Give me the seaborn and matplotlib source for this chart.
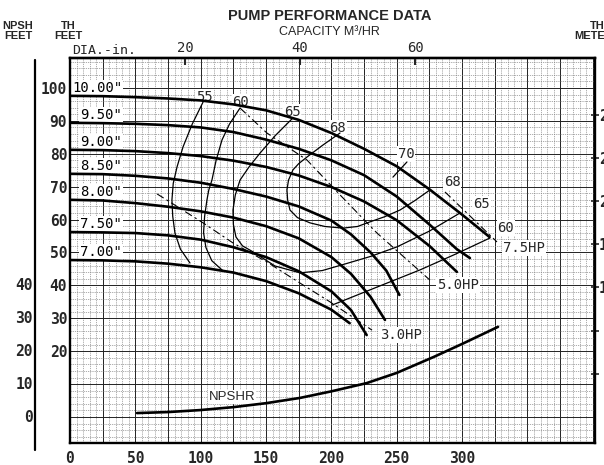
import numpy as np
import pandas as pd
import matplotlib
matplotlib.use("Agg")
import matplotlib.pyplot as plt
from matplotlib.lines import Line2D
import seaborn as sns

sns.set_theme(style="white")
plt.rcParams['font.family'] = ['DejaVu Sans']
MONO = 'DejaVu Sans Mono'
SANS = 'Liberation Sans'

# ---------------- data (capacity GPM, total head ft) ----------------
dia_labels = ['10.00"', '9.50"', '9.00"', '8.50"', '8.00"', '7.50"', '7.00"']
q_1000 = [0, 25, 50, 75, 100, 125, 150, 175, 200, 225, 250, 275, 300, 321]
h_1000 = [97.6, 97.5, 97.2, 96.8, 96.2, 95.0, 93.2, 90.3, 86.3, 81.5, 76.2, 69.2, 61.5, 54.7]
q_950 = [0, 25, 50, 75, 100, 125, 150, 175, 200, 225, 250, 275, 296, 306]
h_950 = [89.4, 89.3, 89.1, 88.7, 88.0, 86.6, 84.3, 81.5, 78.0, 73.5, 67.0, 58.5, 51.0, 48.3]
q_900 = [0, 25, 50, 75, 100, 125, 150, 175, 200, 225, 250, 275, 296]
h_900 = [81.2, 81.1, 80.8, 80.2, 79.3, 77.9, 76.0, 73.4, 69.9, 65.5, 59.8, 52.0, 44.1]
q_850 = [0, 25, 50, 75, 100, 125, 150, 175, 200, 215, 230, 242, 252]
h_850 = [73.9, 73.8, 73.3, 72.5, 71.2, 69.3, 67.0, 64.0, 59.7, 55.5, 50.0, 44.5, 37.1]
q_800 = [0, 25, 50, 75, 100, 125, 150, 175, 200, 215, 230, 241]
h_800 = [66.0, 65.8, 65.0, 63.9, 62.5, 60.6, 58.0, 54.3, 48.6, 43.5, 36.5, 29.5]
q_750 = [0, 25, 50, 75, 100, 125, 150, 175, 200, 215, 227]
h_750 = [56.2, 56.1, 55.9, 55.2, 53.9, 51.6, 48.6, 44.3, 38.2, 32.5, 24.9]
q_700 = [0, 25, 50, 75, 100, 125, 150, 175, 200, 214]
h_700 = [47.7, 47.6, 47.3, 46.6, 45.5, 43.9, 41.3, 37.6, 32.6, 28.5]

# efficiency contours (%)
q_e55 = [101.8, 93.5, 86.5, 81.9, 79.0, 78.0, 78.6, 80.3, 84.5, 91.8]
h_e55 = [95.7, 89.0, 82.1, 76.0, 71.0, 66.0, 61.0, 55.9, 51.0, 46.8]
q_e60a = [130.1, 122.0, 116.3, 111.8, 108.6, 106.2, 104.8, 103.0, 102.2, 104.0, 108.5, 117.1]
h_e60a = [93.9, 89.0, 84.2, 78.0, 72.0, 69.0, 66.0, 61.0, 56.0, 51.5, 47.5, 44.4]
q_e60b = [321.3, 295.0, 267.8, 235.0, 200.5]
h_e60b = [54.4, 49.5, 44.7, 39.5, 34.0]
q_e65 = [170.6, 157.0, 145.4, 137.0, 130.1, 126.5, 124.7, 125.0, 127.0, 132.0, 140.0,
         156.8, 176.0, 193.0, 210.4, 230.0, 250.2, 275.0, 298.4]
h_e65 = [90.9, 85.5, 80.2, 76.0, 72.0, 67.5, 62.9, 58.5, 54.7, 52.0, 50.2,
         45.9, 43.8, 44.5, 46.5, 48.8, 51.7, 56.5, 62.0]
q_e68 = [206.6, 193.0, 181.3, 175.0, 170.6, 167.2, 166.0, 166.5, 168.3, 174.0, 183.6,
         195.0, 208.9, 220.0, 229.5, 241.0, 252.5, 264.0, 275.4]
h_e68 = [86.3, 82.5, 79.0, 77.0, 75.1, 72.0, 69.0, 66.0, 62.9, 60.6, 59.0,
         57.9, 57.4, 57.9, 59.3, 60.9, 62.9, 65.8, 69.0]
q_e70 = [247.1, 257.8]
h_e70 = [72.9, 77.5]

# horsepower lines
q_hp3 = [66.6, 101.8, 124.7, 150.7, 176.0, 198.9, 231.1]
h_hp3 = [67.8, 59.0, 52.9, 47.1, 40.7, 35.0, 26.4]
q_hp5 = [130.1, 150.7, 181.3, 206.6, 234.9, 275.4]
h_hp5 = [93.9, 86.3, 78.1, 67.5, 55.9, 41.6]
q_hp75 = [286.9, 326.7]
h_hp75 = [68.4, 53.2]

# NPSH required
q_npsh = [51.3, 75, 99.5, 125, 150, 176, 200, 227, 250, 278, 300, 327.5]
h_npsh = [1.2, 1.5, 2.1, 3.0, 4.2, 5.8, 7.8, 10.3, 13.4, 18.2, 22.2, 27.4]

x_ticks = [0, 50, 100, 150, 200, 250, 300]
th_ticks = [20, 30, 40, 50, 60, 70, 80, 90, 100]
npsh_ticks = [0, 10, 20, 30, 40]
m3h_ticks = [20, 40, 60]
m_ticks = [4, 8, 12, 16, 20, 24, 28]

# ---------------- figure ----------------
W, H = 604, 465
fig = plt.figure(figsize=(W / 100, H / 100), dpi=100)
fig.patch.set_facecolor('white')
ax = fig.add_axes([70 / W, 1 - 443 / H, 525 / W, 385 / H])
ax.set_facecolor('white')
XMAX, YMIN, YMAX = 401.7, -7.9, 109.1
ax.set_xlim(0, XMAX)
ax.set_ylim(YMIN, YMAX)

# graph-paper grid
for v in np.arange(5, XMAX, 5):
    major = abs(v / 25 - round(v / 25)) < 1e-6
    ax.axvline(v, color='#222222' if major else '#808080',
               lw=0.7 if major else 0.45, ls='-' if major else (0, (2, 1.5)), zorder=0)
for hh in np.arange(-6, YMAX, 2):
    major = abs(hh / 10 - round(hh / 10)) < 1e-6
    ax.axhline(hh, color='#222222' if major else '#808080',
               lw=0.7 if major else 0.45, ls='-' if major else (0, (2, 1.5)), zorder=0)

def draw(q, h, lw, ls='-', z=3):
    sns.lineplot(x=q, y=h, ax=ax, color='black', lw=lw, sort=False,
                 estimator=None, legend=False, zorder=z, linestyle=ls)

heads = [(q_1000, h_1000), (q_950, h_950), (q_900, h_900), (q_850, h_850),
         (q_800, h_800), (q_750, h_750), (q_700, h_700)]
for (q, h) in heads:
    draw(q, h, 1.9)
for (q, h) in [(q_e55, h_e55), (q_e60a, h_e60a), (q_e60b, h_e60b),
               (q_e65, h_e65), (q_e68, h_e68), (q_e70, h_e70)]:
    draw(q, h, 0.9)
for (q, h) in [(q_hp3, h_hp3), (q_hp5, h_hp5), (q_hp75, h_hp75)]:
    draw(q, h, 0.8, ls=(0, (7, 3, 2, 3)))
draw(q_npsh, h_npsh, 1.9)

box = dict(facecolor='white', edgecolor='none', pad=0.6)
for i, (lab, (q, h)) in enumerate(zip(dia_labels, heads)):
    ax.text(1.5 if i == 0 else 7.7, h[0] + 2.5, lab, family=MONO, fontsize=10,
            ha='left', va='center', color='black', bbox=box, zorder=2.5)

eff_text = [('55', 102.5, 97.3), ('60', 130.8, 95.7), ('65', 169.9, 92.7),
            ('68', 205.0, 87.8), ('70', 257.1, 79.9), ('68', 292.3, 71.4),
            ('65', 315.2, 64.7), ('60', 333.6, 57.4)]
for t, x, y in eff_text:
    ax.text(x, y, t, family=MONO, fontsize=10, ha='center', va='center',
            bbox=box, zorder=2.5)
for t, x, y in [('7.5HP', 331.3, 51.4), ('5.0HP', 280.8, 40.1), ('3.0HP', 237.2, 24.9)]:
    ax.text(x, y, t, family=MONO, fontsize=10, ha='left', va='center',
            bbox=box, zorder=2.5)
ax.text(123.9, 6.1, 'NPSHR', family=SANS, fontsize=9.5, ha='center', va='center',
        bbox=box, zorder=2.5)

# axes ticks and spines
for s in ax.spines.values():
    s.set_visible(True)
    s.set_color('black')
    s.set_linewidth(1.7)
ax.set_xticks(x_ticks)
ax.set_xticklabels([str(t) for t in x_ticks], family=MONO, fontweight='bold', fontsize=10.5)
ax.set_yticks(th_ticks)
ax.set_yticklabels([str(t) for t in th_ticks], family=MONO, fontweight='bold', fontsize=10.5)
ax.tick_params(axis='x', length=0, pad=6)
ax.tick_params(axis='y', length=0, pad=2)
ax.set_xlabel('')
ax.set_ylabel('')

# NPSH scale on the far left
tr = ax.get_yaxis_transform()
for t in npsh_ticks:
    ax.text(-37 / 525, t, str(t), transform=tr, family=MONO, fontweight='bold',
            fontsize=10.5, ha='right', va='center', clip_on=False)
fig.add_artist(Line2D([35 / W, 35 / W], [1 - 60 / H, 1 - 450 / H], color='black', lw=1.6))

# top capacity axis in m3/hr
sec = ax.secondary_xaxis('top', functions=(lambda g: g * 0.22712, lambda m: m / 0.22712))
sec.set_xticks(m3h_ticks)
sec.set_xticklabels([str(t) for t in m3h_ticks], family=MONO, fontsize=10)
sec.tick_params(direction='in', length=5, width=1.5, pad=2)
sec.spines['top'].set_linewidth(1.7)

# right head axis in metres (labels right-aligned, running off the page edge)
secy = ax.secondary_yaxis('right', functions=(lambda f: f * 0.3048, lambda m: m / 0.3048))
secy.set_yticks(m_ticks)
secy.set_yticklabels([str(t) for t in m_ticks], family=MONO, fontweight='bold', fontsize=10.5)
secy.tick_params(direction='inout', length=6, width=1.2, pad=12.5)
for lab in secy.get_yticklabels():
    lab.set_horizontalalignment('right')

# header texts
fig.text(330 / W, 1 - 16 / H, 'PUMP PERFORMANCE DATA', family=SANS, fontweight='bold',
         fontsize=10.5, ha='center', va='center')
fig.text(329 / W, 1 - 32 / H, 'CAPACITY M³/HR', family=SANS, fontsize=9,
         ha='center', va='center')
fig.text(18 / W, 1 - 31 / H, 'NPSH\nFEET', family=SANS, fontweight='bold', fontsize=8,
         ha='center', va='center', linespacing=0.95)
fig.text(68 / W, 1 - 31 / H, 'TH\nFEET', family=SANS, fontweight='bold', fontsize=8,
         ha='center', va='center', linespacing=0.95)
fig.text(597 / W, 1 - 31 / H, 'TH\nMETERS', family=SANS, fontweight='bold', fontsize=8,
         ha='center', va='center', linespacing=0.95)
fig.text(72 / W, 1 - 51 / H, 'DIA.-in.', family=MONO, fontsize=9.5, ha='left', va='center')

fig.savefig('out.png', dpi=100, facecolor='white')
